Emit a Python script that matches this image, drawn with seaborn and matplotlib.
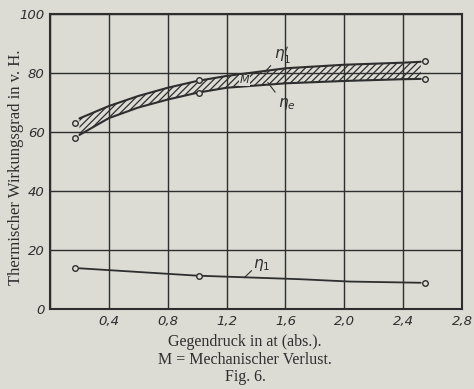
import matplotlib
matplotlib.use("Agg")
import matplotlib.pyplot as plt
import seaborn as sns
import numpy as np
import pandas as pd

# --- data ---
band_x = [0.2, 0.4, 0.6, 0.8, 1.0, 1.2, 1.6, 2.0, 2.4, 2.52]
eta1_prime = [64.6, 68.8, 72.2, 75.0, 77.3, 79.0, 81.6, 82.8, 83.5, 83.8]
eta_e = [59.0, 64.7, 68.3, 71.0, 73.3, 75.0, 76.5, 77.3, 77.9, 78.0]

eta1_x = [0.2, 1.0, 1.7, 2.04, 2.52]
eta1 = [13.8, 11.3, 10.1, 9.3, 8.9]

pts_x = [0.17, 1.01, 2.55]
pts_upper = [63.0, 77.6, 84.0]
pts_lower = [58.0, 73.2, 78.0]
pts_eta1 = [13.9, 11.3, 8.8]

xticks = [0.0, 0.4, 0.8, 1.2, 1.6, 2.0, 2.4, 2.8]
xticklabels = ["", "0,4", "0,8", "1,2", "1,6", "2,0", "2,4", "2,8"]
yticks = [0, 20, 40, 60, 80, 100]
yticklabels = ["0", "20", "40", "60", "80", "100"]

bg = "#dcdcd5"
ink = "#2e2e2e"

sns.set_theme(style="white")
plt.rcParams["hatch.color"] = ink
plt.rcParams["hatch.linewidth"] = 0.9

fig = plt.figure(figsize=(4.74, 3.89), dpi=100, facecolor=bg)
ax = fig.add_axes([50/474, 1-309/389, 412/474, 295/389])
ax.set_facecolor(bg)

df_band = pd.DataFrame({"x": band_x, "up": eta1_prime, "lo": eta_e})
sns.lineplot(data=df_band, x="x", y="up", ax=ax, color=ink, lw=1.5)
sns.lineplot(data=df_band, x="x", y="lo", ax=ax, color=ink, lw=1.5)
ax.fill_between(band_x, eta_e, eta1_prime, facecolor="none", edgecolor=ink,
                hatch="/////", linewidth=0)

df_e1 = pd.DataFrame({"x": eta1_x, "y": eta1})
sns.lineplot(data=df_e1, x="x", y="y", ax=ax, color=ink, lw=1.3)

for ys in (pts_upper, pts_lower, pts_eta1):
    sns.scatterplot(x=pts_x, y=ys, ax=ax, s=16, facecolor=bg,
                    edgecolor=ink, linewidth=1.0, zorder=5)

ax.set_xlim(0, 2.8)
ax.set_ylim(0, 100)
ax.set_xticks(xticks)
ax.set_xticklabels(xticklabels, style="italic", fontsize=9.5, color=ink)
ax.set_yticks(yticks)
ax.set_yticklabels(yticklabels, style="italic", fontsize=9.5, color=ink)
ax.tick_params(length=0, pad=4)
ax.grid(True, color=ink, lw=1.0)
for s in ax.spines.values():
    s.set_color(ink)
    s.set_linewidth(1.5)
ax.set_xlabel("")
ax.set_ylabel("")

# annotations
ax.text(1.52, 84.5, r"$\eta_1'$", fontsize=11, color=ink)
ax.plot([1.46, 1.5], [80.3, 82.5], color=ink, lw=0.8)
ax.text(1.32, 77.6, "M", fontsize=8, style="italic", color=ink, ha="center",
        va="center", zorder=6,
        bbox=dict(boxstyle="square,pad=0.05", fc=bg, ec="none"))
ax.text(1.55, 68.5, r"$\eta_e$", fontsize=11, color=ink)
ax.plot([1.48, 1.53], [76.8, 73.5], color=ink, lw=0.8)
ax.text(1.38, 13.8, r"$\eta_1$", fontsize=11, color=ink)
ax.plot([1.32, 1.37], [10.6, 13.0], color=ink, lw=0.8)

fig.text(16/474, (1-167/389), "Thermischer Wirkungsgrad in v. H.",
         rotation=90, ha="center", va="center", family="Liberation Serif",
         fontsize=12, color=ink)
fig.text(245/474, 1-342/389, "Gegendruck in at (abs.).", ha="center", va="center",
         family="Liberation Serif", fontsize=11.5, color=ink)
fig.text(245/474, 1-360/389, "M = Mechanischer Verlust.", ha="center", va="center",
         family="Liberation Serif", fontsize=11.5, color=ink)
fig.text(245/474, 1-377/389, "Fig. 6.", ha="center", va="center",
         family="Liberation Serif", fontsize=11.5, color=ink)

fig.savefig("out.png", dpi=100, facecolor=bg)
